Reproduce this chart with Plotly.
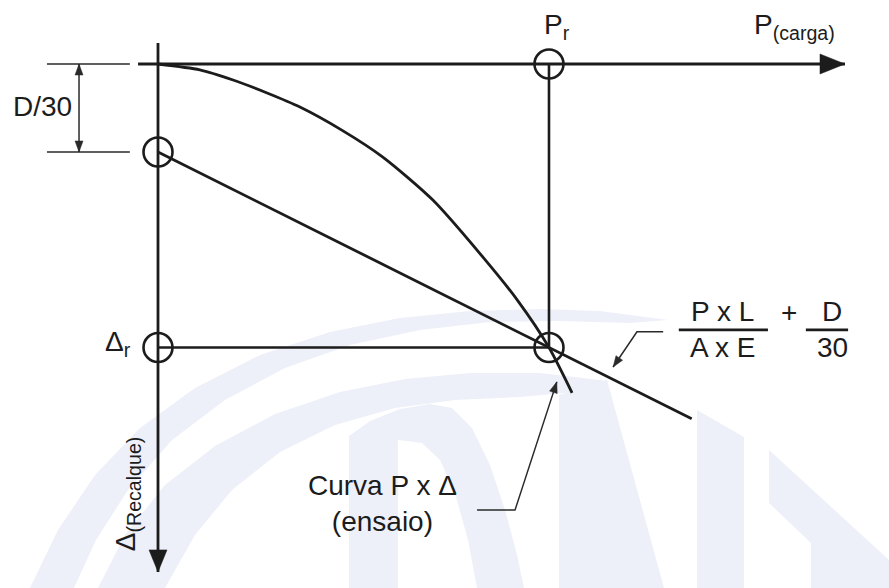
import plotly.graph_objects as go

# ---------------------------------------------------------------
# Critério de ruptura convencional (NBR 6122) - grandezas do diagrama
# P = carga, Δ = recalque (unidades arbitrárias)
# ---------------------------------------------------------------
P_RUPTURA = 100.0          # Pr
RECALQUE_RUPTURA = 72.5    # Δr
D_SOBRE_30 = 22.5          # parcela D/30
P_RETA_FIM = 136.5         # extensão da reta elástica além de Pr

# eixos
P_EIXO_INICIO, P_EIXO_FIM = -5.1, 175.7
D_EIXO_INICIO, D_EIXO_FIM = -5.4, 129.9

# cotagem de D/30 (posição em P)
P_COTA = -20.2
P_COTA_LINHAS = [-28.4, -7.2]

# curva carga x recalque do ensaio
curva_P = [0.0, 10.7, 19.2, 27.9, 36.3, 47.0, 57.5, 70.3, 83.1, 92.0, 100.0, 105.9]
curva_D = [0.0, 1.5, 4.1, 7.4, 11.0, 16.9, 23.8, 34.8, 49.4, 60.5, 72.5, 84.1]

# chamadas (linhas de indicação)
chamada_reta_P = [129.2, 122.5, 116.4]
chamada_reta_D = [68.5, 68.5, 77.5]
chamada_curva_P = [81.6, 91.3, 102.0]
chamada_curva_D = [114.1, 114.1, 81.3]

# ---------------------------------------------------------------
W, H = 889, 588
X_RANGE = [-40.41, 186.96]
Y_RANGE = [134.02, -16.37]   # eixo de recalque cresce para baixo

INK = "#1c1c1c"
THIN = "#2a2a2a"
FONT = "Liberation Sans, Arial, Helvetica, sans-serif"
WATERMARK = "#edf0f8"

ux = (X_RANGE[1] - X_RANGE[0]) / W
uy = (Y_RANGE[0] - Y_RANGE[1]) / H


def to_px(x, y):
    return (x - X_RANGE[0]) / ux, (y - Y_RANGE[1]) / uy


def to_data(px, py):
    return X_RANGE[0] + px * ux, Y_RANGE[1] + py * uy


def arrow_head(tail, tip, length, half):
    """Triângulo cheio na ponta 'tip', orientado de 'tail' para 'tip' (tamanhos em px)."""
    tx, ty = to_px(*tip)
    sx, sy = to_px(*tail)
    dx, dy = tx - sx, ty - sy
    n = (dx * dx + dy * dy) ** 0.5
    dx, dy = dx / n, dy / n
    bx, by = tx - dx * length, ty - dy * length
    pts = [(tx, ty), (bx - dy * half, by + dx * half), (bx + dy * half, by - dx * half), (tx, ty)]
    xs, ys = zip(*[to_data(*p) for p in pts])
    return list(xs), list(ys)


fig = go.Figure()


def line(xs, ys, width, color=INK):
    fig.add_trace(go.Scatter(x=xs, y=ys, mode="lines", hoverinfo="skip",
                             line=dict(color=color, width=width)))


def head(tail, tip, length, half, color=INK):
    hx, hy = arrow_head(tail, tip, length, half)
    fig.add_trace(go.Scatter(x=hx, y=hy, mode="lines", fill="toself", hoverinfo="skip",
                             fillcolor=color, line=dict(color=color, width=0.5)))


# eixos P (carga) e Δ (recalque)
line([P_EIXO_INICIO, P_EIXO_FIM], [0, 0], 2.8)
head((0, 0), (P_EIXO_FIM, 0), 25, 10)
line([0, 0], [D_EIXO_INICIO, D_EIXO_FIM], 2.8)
head((0, 0), (0, D_EIXO_FIM), 22, 9)

# linhas de referência Pr e Δr
line([P_RUPTURA, P_RUPTURA], [0, RECALQUE_RUPTURA], 2.6)
line([0, P_RUPTURA], [RECALQUE_RUPTURA, RECALQUE_RUPTURA], 2.6)

# reta  Δ = P·L/(A·E) + D/30
incl = (RECALQUE_RUPTURA - D_SOBRE_30) / P_RUPTURA
line([0, P_RETA_FIM], [D_SOBRE_30, D_SOBRE_30 + incl * P_RETA_FIM], 2.8)

# curva P x Δ do ensaio
fig.add_trace(go.Scatter(x=curva_P, y=curva_D, mode="lines", hoverinfo="skip",
                         line=dict(color=INK, width=2.8, shape="spline", smoothing=0.7)))

# cotagem D/30
for d in (0, D_SOBRE_30):
    line(P_COTA_LINHAS, [d, d], 1.5, THIN)
line([P_COTA, P_COTA], [0, D_SOBRE_30], 1.5, THIN)
head((P_COTA, D_SOBRE_30), (P_COTA, 0), 11, 4, THIN)
head((P_COTA, 0), (P_COTA, D_SOBRE_30), 11, 4, THIN)

# chamadas
line(chamada_reta_P, chamada_reta_D, 1.5, THIN)
head((chamada_reta_P[1], chamada_reta_D[1]), (chamada_reta_P[2], chamada_reta_D[2]), 11, 4, THIN)
line(chamada_curva_P, chamada_curva_D, 1.5, THIN)
head((chamada_curva_P[1], chamada_curva_D[1]), (chamada_curva_P[2], chamada_curva_D[2]), 11, 4, THIN)

# frações da expressão
line([133.2, 156.0], [68.0, 68.0], 2.8)
line([165.7, 176.5], [68.0, 68.0], 2.8)

# marcadores circulares nos pontos notáveis
fig.add_trace(go.Scatter(
    x=[0, 0, P_RUPTURA, P_RUPTURA],
    y=[D_SOBRE_30, RECALQUE_RUPTURA, 0, RECALQUE_RUPTURA],
    mode="markers", hoverinfo="skip",
    marker=dict(symbol="circle-open", size=29, color=INK, line=dict(width=2.6, color=INK)),
))

# textos
def label(x, y, text, size=28, **kw):
    fig.add_annotation(x=x, y=y, text=text, showarrow=False,
                       font=dict(family=FONT, size=size, color=INK), **kw)


label(-29.5, 10.8, "D/30")
label(98.3, -9.6, "P<sub>r</sub>", xanchor="left")
label(151.9, -9.6, "P<sub>(carga)</sub>", xanchor="left")
label(-6.3, 71.6, "Δ<sub>r</sub>", xanchor="right")
label(-7.9, 110.0, "Δ<sub>(Recalque)</sub>", textangle=-90)
label(57.3, 112.5, "Curva P x Δ<br>(ensaio)", align="center")
label(144.5, 63.3, "P x L")
label(144.5, 72.6, "A x E")
label(161.3, 63.6, "+")
label(172.4, 63.3, "D")
label(172.4, 72.6, "30")

# marca d'água (logotipo ao fundo), contornos em pixels da página
watermark = [
    [(30, 588), (58, 530), (95, 475), (140, 428), (195, 388), (260, 355), (330, 332), (400, 318),
     (470, 311), (540, 309), (600, 311), (668, 320),
     (630, 323), (560, 321), (490, 322), (420, 330), (350, 345), (285, 368), (225, 400),
     (172, 440), (128, 490), (96, 540), (74, 588)],
    [(98, 588), (125, 535), (165, 485), (215, 446), (275, 414), (340, 392), (405, 379), (470, 373),
     (540, 373), (608, 381),
     (585, 391), (520, 397), (455, 400), (395, 408), (335, 425), (280, 452), (232, 490),
     (195, 535), (165, 588)],
    [(349, 588), (349, 436), (370, 421), (400, 409), (430, 404), (452, 408), (472, 428),
     (490, 465), (505, 510), (517, 555), (524, 588),
     (477, 588), (468, 540), (455, 493), (440, 460), (422, 443), (398, 440), (398, 588)],
    [(559, 395), (607, 380), (664, 588), (559, 588)],
    [(697, 410), (744, 437), (744, 588), (697, 588)],
    [(769, 450), (889, 560), (889, 588), (811, 588), (811, 543), (769, 503)],
]
for poly in watermark:
    path = "M " + " L ".join(f"{px / W:.4f},{1 - py / H:.4f}" for px, py in poly) + " Z"
    fig.add_shape(type="path", path=path, xref="paper", yref="paper", layer="below",
                  fillcolor=WATERMARK, line=dict(width=0))

fig.update_layout(
    width=W, height=H, autosize=False,
    margin=dict(l=0, r=0, t=0, b=0),
    paper_bgcolor="white", plot_bgcolor="white",
    showlegend=False,
    xaxis=dict(range=X_RANGE, visible=False, fixedrange=True),
    yaxis=dict(range=Y_RANGE, visible=False, fixedrange=True),
)

fig.write_html("out.html")
